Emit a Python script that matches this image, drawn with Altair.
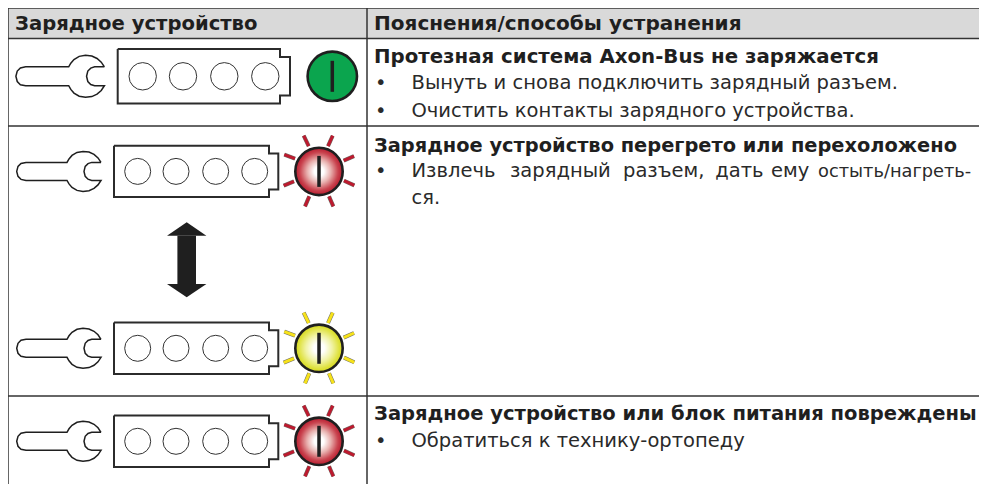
import altair as alt
import pandas as pd

# ---- table geometry (in picture pixels)
H_LINES_Y = [8, 38.5, 126, 396]
V_LINES_X = [8, 367]
HEADER_X = [8, 979]
HEADER_Y = [8, 38]

# ---- wrench outline, relative to head centre
WRENCH_DX = [18, 8.7, 5, 2.2, 1, 2.2, 5, 8.7, 18, 15, 11, 6, 0, -6, -11, -14, -16, -57, -62, -65, -66.3, -65, -62, -57, -16, -14, -11, -6, 0, 6, 11, 15, 18]
WRENCH_DY = [-9, -9, -7.8, -5, 0, 5, 7.8, 9, 9, 13.5, 17, 19.3, 20, 19, 16, 12.5, 9, 9, 8, 5, 0, -5, -8, -9, -9, -12.5, -16, -19, -20, -19.3, -17, -13.5, -9]

# ---- icon rows: [row1, row2a, row2b, row3]
ROW_CY = [76.3, 171.4, 348.3, 441.3]
WRENCH_CX = [85.5, 83, 83, 83]
WRENCH_SCALE = [1.05, 1, 1, 1]

BAT_LEFT = [117.7, 114, 114, 114]
BAT_BODY_RIGHT = [280, 269, 269, 269]
BAT_NUB_RIGHT = [290, 278.3, 278.3, 278.3]
BAT_HALF_H = [27.2, 25.7, 25.7, 25.7]
BAT_NUB_HALF_H = [19.2, 18, 18, 18]

CIRCLE_X = [[142.7, 183, 224.3, 265.3], [137.7, 176, 215.7, 254.7], [137.7, 176, 215.7, 254.7], [137.7, 176, 215.7, 254.7]]
CIRCLE_D = [27.4, 26, 26, 26]

LAMP_CX = [332.3, 319, 319, 319]
LAMP_D = [49.4, 47.4, 47.4, 47.4]
LAMP_BAR_HALF = [15.5, 15.5, 15.5, 15.5]

RAY_DX1 = [-15.3, 13.7, -34.7, 35, -35.3, 35.3, -14, 14.3]
RAY_DY1 = [-35.7, -35.7, -16.7, -15.3, 14.3, 14, 35, 35]
RAY_DX2 = [-10.3, 9, -24, 24.7, -25, 25, -9.7, 10]
RAY_DY2 = [-25.3, -25.3, -12.7, -10.7, 10, 9.3, 25, 25]

# ---- arrow, three parts
ARROW_PART = ["top", "top", "shaft", "shaft", "bottom", "bottom"]
ARROW_Y = [222.3, 235.7, 235.7, 284, 284, 297.3]
ARROW_X1 = [186.7, 167, 177.4, 177.4, 167, 186.7]
ARROW_X2 = [186.7, 206.4, 196, 196, 206.4, 186.7]

# ---- text
BOLD_TEXT = ["Зарядное устройство", "Пояснения/способы устранения",
             "Протезная система Axon-Bus не заряжается",
             "Зарядное устройство перегрето или перехоложено",
             "Зарядное устройство или блок питания повреждены"]
BOLD_X = [15, 374, 374, 374, 374]
BOLD_Y = [30, 30, 62.5, 152, 420]
BOLD_FONT_SIZE = [19.6, 20.05, 19.75, 19.4, 19.55]

BODY_TEXT = ["•", "Вынуть и снова подключить зарядный разъем.",
             "•", "Очистить контакты зарядного устройства.",
             "•", "Извлечь", "зарядный", "разъем,", "дать", "ему", "ся.",
             "•", "Обратиться к технику-ортопеду"]
BODY_X = [375, 411.5, 375, 411.5, 375, 411.5, 510, 623, 715.3, 771, 411.5, 375, 411.5]
BODY_Y = [89, 89, 116.7, 116.7, 177, 177, 177, 177, 177, 177, 204, 447.3, 447.3]
LAST_WORD = ["остыть/нагреть-"]
LAST_WORD_X = [818]
LAST_WORD_Y = [177]

INK = "#1f1f1f"
GREY = "#d9d9d9"
RED = "#bd1a2f"
YELLOW = "#f7e21a"

X = alt.Scale(domain=[8, 979], range=[0, 971])
Y = alt.Scale(domain=[8, 484], range=[0, 476])


def ex(f="x"):
    return alt.X(f"{f}:Q", scale=X, axis=None)


def ey(f="y"):
    return alt.Y(f"{f}:Q", scale=Y, axis=None)


layers = []

# header band
layers.append(alt.Chart(pd.DataFrame({"x": [HEADER_X[0]], "x2": [HEADER_X[1]], "y": [HEADER_Y[0]], "y2": [HEADER_Y[1]]}))
              .mark_rect(color=GREY).encode(x=ex(), x2="x2:Q", y=ey(), y2="y2:Q"))

# table rules
layers.append(alt.Chart(pd.DataFrame({"y": H_LINES_Y, "x": [HEADER_X[0]] * 4, "x2": [HEADER_X[1]] * 4}))
              .mark_rule(color="#333333", strokeWidth=1.5).encode(x=ex(), x2="x2:Q", y=ey()))
layers.append(alt.Chart(pd.DataFrame({"x": V_LINES_X, "y": [8, 8], "y2": [484, 484]}))
              .mark_rule(color="#333333", strokeWidth=1.5).encode(x=ex(), y=ey(), y2="y2:Q"))

# wrenches
rows = []
for i, cy in enumerate(ROW_CY):
    for k, (dx, dy) in enumerate(zip(WRENCH_DX, WRENCH_DY)):
        rows.append({"id": i, "o": k, "x": WRENCH_CX[i] + WRENCH_SCALE[i] * dx, "y": cy + WRENCH_SCALE[i] * dy})
layers.append(alt.Chart(pd.DataFrame(rows)).mark_line(color=INK, strokeWidth=1.5, interpolate="linear")
              .encode(x=ex(), y=ey(), detail="id:N", order="o:Q"))

# batteries
rows = []
for i, cy in enumerate(ROW_CY):
    L, B, N, H, M = BAT_LEFT[i], BAT_BODY_RIGHT[i], BAT_NUB_RIGHT[i], BAT_HALF_H[i], BAT_NUB_HALF_H[i]
    pts = [(L, cy - H), (B, cy - H), (B, cy - M), (N, cy - M), (N, cy + M), (B, cy + M), (B, cy + H), (L, cy + H), (L, cy - H)]
    for k, (x, y) in enumerate(pts):
        rows.append({"id": i, "o": k, "x": x, "y": y})
layers.append(alt.Chart(pd.DataFrame(rows)).mark_line(color="#2b2b2b", strokeWidth=2, strokeJoin="miter")
              .encode(x=ex(), y=ey(), detail="id:N", order="o:Q"))

# battery cells
rows = []
for i, cy in enumerate(ROW_CY):
    for x in CIRCLE_X[i]:
        rows.append({"x": x, "y": cy, "s": CIRCLE_D[i] ** 2})
layers.append(alt.Chart(pd.DataFrame(rows)).mark_point(shape="circle", filled=False, color="#333333", strokeWidth=1, opacity=1)
              .encode(x=ex(), y=ey(), size=alt.Size("s:Q", scale=None)))

# rays
RAY_COLOR = [None, RED, YELLOW, RED]
rows = []
for i, cy in enumerate(ROW_CY):
    if RAY_COLOR[i] is None:
        continue
    for a, b, c, d in zip(RAY_DX1, RAY_DY1, RAY_DX2, RAY_DY2):
        rows.append({"x": LAMP_CX[i] + a, "y": cy + b, "x2": LAMP_CX[i] + c, "y2": cy + d, "c": RAY_COLOR[i]})
rays = pd.DataFrame(rows)
layers.append(alt.Chart(rays).mark_rule(strokeWidth=4, color="#4a4a40", opacity=0.8).encode(x=ex(), y=ey(), x2="x2:Q", y2="y2:Q"))
layers.append(alt.Chart(rays).mark_rule(strokeWidth=3).encode(x=ex(), y=ey(), x2="x2:Q", y2="y2:Q", color=alt.Color("c:N", scale=None)))


def lamp_fill(stops):
    return {"gradient": "radial", "x1": 0.5, "y1": 0.5, "r1": 0, "x2": 0.5, "y2": 0.5, "r2": 0.5,
            "stops": [{"offset": o, "color": c} for o, c in stops]}


RED_STOPS = [(0, "#ffffff"), (0.2, "#ffffff"), (0.5, "#e8b0ae"), (0.8, "#c9444f"), (1, "#b81a2e")]
YEL_STOPS = [(0, "#ffffff"), (0.22, "#ffffff"), (0.55, "#f1f3a6"), (0.85, "#dfe240"), (1, "#d4d81c")]
LAMP_FILLS = ["#0ba54e", lamp_fill(RED_STOPS), lamp_fill(YEL_STOPS), lamp_fill(RED_STOPS)]
for i, cy in enumerate(ROW_CY):
    layers.append(alt.Chart(pd.DataFrame({"x": [LAMP_CX[i]], "y": [cy], "s": [LAMP_D[i] ** 2]}))
                  .mark_point(shape="circle", filled=True, fill=LAMP_FILLS[i], stroke=INK, strokeWidth=2.6, opacity=1)
                  .encode(x=ex(), y=ey(), size=alt.Size("s:Q", scale=None)))

layers.append(alt.Chart(pd.DataFrame({"x": LAMP_CX,
                                      "y": [c - h for c, h in zip(ROW_CY, LAMP_BAR_HALF)],
                                      "y2": [c + h for c, h in zip(ROW_CY, LAMP_BAR_HALF)]}))
              .mark_rule(color=INK, strokeWidth=3.5).encode(x=ex(), y=ey(), y2="y2:Q"))

# arrow
layers.append(alt.Chart(pd.DataFrame({"y": ARROW_Y, "x": ARROW_X1, "x2": ARROW_X2, "part": ARROW_PART}))
              .mark_area(color=INK, orient="horizontal", opacity=1)
              .encode(y=ey(), x=ex(), x2="x2:Q", detail="part:N"))

# text
for t, tx, ty, fs in zip(BOLD_TEXT, BOLD_X, BOLD_Y, BOLD_FONT_SIZE):
    layers.append(alt.Chart(pd.DataFrame({"t": [t], "x": [tx], "y": [ty]}))
                  .mark_text(align="left", baseline="alphabetic", font="DejaVu Sans", fontWeight="bold", fontSize=fs, color=INK)
                  .encode(x=ex(), y=ey(), text="t:N"))
layers.append(alt.Chart(pd.DataFrame({"t": BODY_TEXT, "x": BODY_X, "y": BODY_Y}))
              .mark_text(align="left", baseline="alphabetic", font="DejaVu Sans", fontSize=19.5, color="#2a2a2a")
              .encode(x=ex(), y=ey(), text="t:N"))
layers.append(alt.Chart(pd.DataFrame({"t": LAST_WORD, "x": LAST_WORD_X, "y": LAST_WORD_Y}))
              .mark_text(align="left", baseline="alphabetic", font="DejaVu Sans", fontSize=17.8, color="#2a2a2a")
              .encode(x=ex(), y=ey(), text="t:N"))

chart = (alt.layer(*layers)
         .properties(width=971, height=476, padding=0, background="white",
                     autosize=alt.AutoSizeParams(type="none"))
         .configure_view(stroke=None))
chart.save("out.html", embed_options={"renderer": "svg", "actions": False})
